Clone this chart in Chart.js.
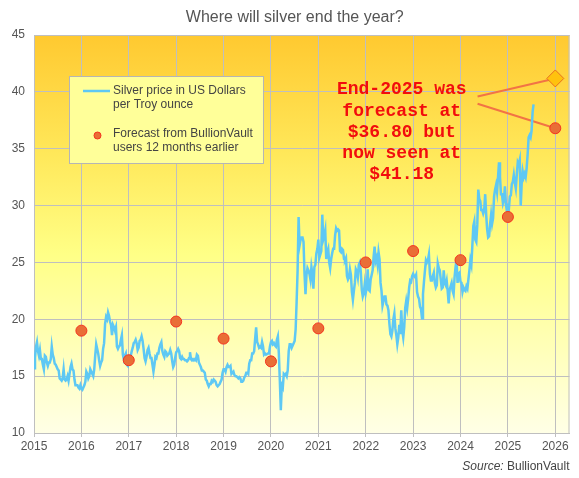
<!DOCTYPE html>
<html>
<head>
<meta charset="utf-8">
<script src="https://cdn.jsdelivr.net/npm/chart.js@4.4.1/dist/chart.umd.min.js"></script>
<style>
  html, body { margin: 0; padding: 0; background: #fff; }
  #wrap { width: 579px; height: 478px; }
</style>
</head>
<body>
<div id="wrap"><canvas id="chart"></canvas></div>
<script>
// silver price, roughly weekly (4 readings a month), USD per troy ounce
const silver2015 = [15.7,16.6,17.6,18.0, 17.2,16.8,17.3,16.5, 16.5,16.0,15.6,16.8, 16.7,16.2,15.9,16.2, 16.2,16.5,17.6,16.9, 16.6,16.1,16.0,15.8, 15.6,15.5,14.8,14.7, 14.6,14.8,15.6,14.7, 14.6,14.7,15.0,14.6, 15.2,15.8,16.1,15.6, 15.5,14.7,14.2,14.2, 14.2,14.0,13.9,14.2];
const silver2016 = [13.9,13.8,14.0,14.2, 14.5,15.4,15.2,14.8, 15.0,15.6,15.4,15.2, 15.0,15.6,16.8,17.8, 17.4,17.0,16.4,15.9, 16.2,16.4,17.4,17.9, 19.6,20.2,20.0,20.6, 20.3,19.8,19.5,18.6, 19.5,19.3,19.0,19.3, 17.6,17.4,17.6,17.7, 18.2,18.6,16.9,16.5, 16.8,17.0,16.0,15.9];
const silver2017 = [16.4,16.6,16.8,17.2, 17.5,17.9,18.0,18.2, 17.9,17.3,17.5,18.1, 18.2,18.5,18.1,17.4, 16.6,16.3,16.7,17.3, 17.5,17.0,16.6,16.6, 16.0,15.4,16.0,16.7, 16.6,17.0,17.0,17.5, 17.8,18.0,17.2,16.9, 16.7,17.2,17.1,16.8, 16.9,17.0,17.3,17.0, 16.3,15.8,16.0,16.6];
const silver2018 = [17.1,17.2,17.4,17.2, 16.6,16.5,16.7,16.5, 16.5,16.4,16.4,16.3, 16.4,16.6,17.1,16.5, 16.4,16.5,16.4,16.5, 16.4,16.9,16.8,16.2, 16.0,15.8,15.5,15.5, 15.4,15.3,14.7,14.6, 14.3,14.1,14.3,14.3, 14.6,14.5,14.7,14.6, 14.5,14.2,14.1,14.2, 14.3,14.5,14.7,15.3];
const silver2019 = [15.6,15.6,15.4,15.8, 16.0,15.8,15.8,15.9, 15.2,15.3,15.4,15.1, 15.0,15.0,14.9,14.8, 14.9,14.8,14.5,14.5, 14.6,14.9,15.0,15.3, 15.3,15.2,16.1,16.4, 16.4,17.0,17.0,17.2, 18.3,19.3,18.0,17.8, 17.5,17.6,17.5,18.0, 17.6,16.9,17.0,16.9, 16.9,17.0,17.0,17.6];
const silver2020 = [18.0,18.1,17.8,17.9, 17.7,17.6,18.2,18.5, 17.0,14.6,12.0,14.2, 14.0,15.2,15.1,15.2, 15.0,15.5,17.2,17.8, 17.8,17.5,17.7,17.9, 18.1,19.1,21.5,24.3, 29.0,26.5,27.0,27.2, 27.2,26.8,24.0,22.2, 23.9,24.5,24.3,24.0, 23.5,24.6,24.0,22.7, 24.6,24.8,25.8,26.2];
const silver2021 = [27.0,25.4,25.7,26.0, 29.2,27.0,27.3,27.8, 25.3,25.9,26.2,25.0, 24.5,25.3,25.8,26.2, 26.2,27.4,28.0,27.8, 27.9,27.8,26.0,25.9, 26.2,26.1,25.3,25.2, 25.4,23.8,23.5,23.7, 24.4,23.9,22.4,21.7, 22.5,23.2,24.4,24.2, 23.7,24.8,25.0,24.2, 22.6,22.0,22.3,23.1];
const silver2022 = [22.3,22.8,24.4,22.6, 22.5,23.5,23.9,24.3, 25.5,26.4,25.1,25.4, 24.8,25.9,25.3,23.2, 22.5,21.2,21.6,22.0, 22.0,21.3,21.2,20.8, 19.6,18.7,18.5,19.0, 20.0,20.5,19.2,18.6, 17.8,18.4,19.5,18.7, 20.8,19.0,18.4,19.3, 21.0,21.6,21.0,21.8, 22.8,23.4,23.3,23.8];
const silver2023 = [24.0,23.8,23.7,23.9, 22.4,22.0,21.8,21.1, 20.9,20.1,22.2,23.3, 24.3,25.2,25.0,25.2, 25.7,24.0,23.4,23.4, 23.8,24.1,23.2,22.8, 23.0,24.9,24.5,24.3, 23.5,22.7,22.8,24.3, 23.2,23.0,23.4,22.5, 21.4,22.6,22.9,23.2, 22.5,22.2,23.7,24.6, 25.2,23.2,24.0,24.1];
const silver2024 = [23.3,23.2,22.4,22.8, 22.6,22.5,22.9,22.7, 23.5,24.3,25.2,24.8, 26.5,28.2,28.6,27.0, 26.8,28.3,31.4,30.6, 30.4,29.6,29.6,29.3, 29.6,31.0,29.2,27.9, 27.2,27.3,28.4,29.2, 28.4,28.9,30.8,31.4, 31.8,31.2,32.5,33.8, 32.5,31.0,31.0,30.2, 30.5,31.7,30.1,29.5];
const silver2025 = [29.9,29.7,30.8,30.9, 31.9,32.1,32.7,32.0, 31.5,32.7,33.8,33.6, 34.0,30.0,32.0,33.0, 32.5,32.8,32.5,33.3, 34.5,36.0,36.2,36.0, 36.6,38.2,38.9];
const silverYears = [2015,2016,2017,2018,2019,2020,2021,2022,2023,2024,2025];
const silverByYear = [silver2015,silver2016,silver2017,silver2018,silver2019,silver2020,silver2021,silver2022,silver2023,silver2024,silver2025];

// year-end forecasts made 12 months earlier
const forecastYears  = [2016,2017,2018,2019,2020,2021,2022,2023,2024,2025,2026];
const forecastValues = [19.0,16.4,19.8,18.3,16.3,19.2,25.0,26.0,25.2,29.0,36.8];
const latestYear = 2026;
const latestForecast = 41.18;

const xTickLabels = [2015,2016,2017,2018,2019,2020,2021,2022,2023,2024,2025,2026];
const titleText = "Where will silver end the year?";
const noteLines = ["End-2025 was", "forecast at", "$36.80 but", "now seen at", "$41.18"];

const FONT = "'Liberation Sans', Arial, sans-serif";
Chart.defaults.font.family = FONT;

const silverPoints = [];
silverByYear.forEach((vals, k) => {
  vals.forEach((v, i) => silverPoints.push({ x: silverYears[k] + i / 48, y: v }));
});
const forecastPoints = forecastYears.map((yr, i) => ({ x: yr, y: forecastValues[i] }));

const decor = {
  id: "decor",
  beforeDraw(chart) {
    const { ctx, chartArea: a } = chart;
    const g = ctx.createLinearGradient(0, a.top, 0, a.bottom);
    g.addColorStop(0, "#ffc930");
    g.addColorStop(0.3, "#ffe85a");
    g.addColorStop(0.55, "#ffff86");
    g.addColorStop(1, "#ffffe6");
    ctx.save();
    ctx.fillStyle = g;
    ctx.fillRect(a.left, a.top, a.right - a.left, a.bottom - a.top);
    ctx.fillStyle = "#555";
    ctx.font = "16px " + FONT;
    ctx.textAlign = "center";
    ctx.textBaseline = "middle";
    ctx.fillText(titleText, (a.left + a.right) / 2 - 7, 17.5);
    ctx.restore();
  },
  beforeDatasetsDraw(chart) {
    const { ctx, chartArea: a, scales: { x, y } } = chart;
    ctx.save();
    ctx.strokeStyle = "#bfbfbf";
    ctx.lineWidth = 1;
    ctx.strokeRect(a.left + 0.5, a.top + 0.5, a.right - a.left - 1, a.bottom - a.top);
    // connectors from the note to the two end-2025 markers
    ctx.strokeStyle = "#f27345";
    ctx.lineWidth = 2;
    ctx.beginPath();
    ctx.moveTo(x.getPixelForValue(2024.36), y.getPixelForValue(39.6));
    ctx.lineTo(x.getPixelForValue(latestYear), y.getPixelForValue(latestForecast));
    ctx.moveTo(x.getPixelForValue(2024.36), y.getPixelForValue(38.95));
    ctx.lineTo(x.getPixelForValue(2026), y.getPixelForValue(forecastValues[forecastValues.length - 1]));
    ctx.stroke();
    ctx.restore();
  },
  afterDatasetsDraw(chart) {
    const { ctx, chartArea: a, scales: { x, y } } = chart;
    ctx.save();

    // legend box
    const lx = a.left + 35, ly = a.top + 41;
    ctx.fillStyle = "#ffff99";
    ctx.fillRect(lx, ly, 194, 87);
    ctx.strokeStyle = "#b5b5b5";
    ctx.lineWidth = 1;
    ctx.strokeRect(lx + 0.5, ly + 0.5, 194, 87);
    ctx.strokeStyle = "#5ec8f4";
    ctx.lineWidth = 2.5;
    ctx.beginPath();
    ctx.moveTo(lx + 14, ly + 15);
    ctx.lineTo(lx + 41, ly + 15);
    ctx.stroke();
    ctx.beginPath();
    ctx.arc(lx + 28.5, ly + 59.5, 3.5, 0, Math.PI * 2);
    ctx.fillStyle = "#e96e36";
    ctx.fill();
    ctx.strokeStyle = "#f5331f";
    ctx.lineWidth = 1;
    ctx.stroke();
    ctx.fillStyle = "#444";
    ctx.font = "12px " + FONT;
    ctx.textAlign = "left";
    ctx.textBaseline = "middle";
    ctx.fillText("Silver price in US Dollars", lx + 44, ly + 14.5);
    ctx.fillText("per Troy ounce", lx + 44, ly + 28.5);
    ctx.fillText("Forecast from BullionVault", lx + 44, ly + 58);
    ctx.fillText("users 12 months earlier", lx + 44, ly + 72);

    // note
    ctx.fillStyle = "#f20d0d";
    ctx.font = "bold 18px 'Liberation Mono', 'Courier New', monospace";
    ctx.textAlign = "center";
    const nx = x.getPixelForValue(2022.76);
    const ny = y.getPixelForValue(40.17);
    noteLines.forEach((t, i) => ctx.fillText(t, nx, ny + i * 21.2));

    // source
    ctx.fillStyle = "#444";
    ctx.textAlign = "right";
    ctx.font = "12px " + FONT;
    const src = "BullionVault";
    const sx = a.right;
    const sy = 467;
    ctx.fillText(src, sx, sy);
    const w = ctx.measureText(src).width;
    ctx.font = "italic 12px " + FONT;
    ctx.fillText("Source: ", sx - w, sy);
    ctx.restore();
  }
};

new Chart(document.getElementById("chart"), {
  type: "line",
  data: {
    datasets: [
      {
        label: "Latest forecast",
        data: [{ x: latestYear, y: latestForecast }],
        showLine: false,
        pointStyle: "rectRot",
        pointRadius: 8.5,
        pointBackgroundColor: "#ffc20e",
        pointBorderColor: "#e8701e",
        pointBorderWidth: 1,
        clip: false,
        order: 0
      },
      {
        label: "Forecast from BullionVault users 12 months earlier",
        data: forecastPoints,
        showLine: false,
        pointRadius: 5.5,
        pointBackgroundColor: "#e96e36",
        pointBorderColor: "#f5331f",
        pointBorderWidth: 1,
        clip: false,
        order: 1
      },
      {
        label: "Silver price in US Dollars per Troy ounce",
        data: silverPoints,
        borderColor: "#5ec8f4",
        borderWidth: 2.5,
        pointRadius: 0,
        tension: 0,
        fill: false,
        order: 3
      }
    ]
  },
  options: {
    responsive: true,
    maintainAspectRatio: false,
    animation: false,
    layout: { padding: { left: 0, right: 7, top: 35, bottom: 25 } },
    plugins: {
      legend: { display: false },
      tooltip: { enabled: false },
      title: { display: false }
    },
    scales: {
      x: {
        type: "linear",
        min: 2015,
        max: 2026.3,
        afterBuildTicks: (s) => { s.ticks = xTickLabels.map((v) => ({ value: v })); },
        afterFit: (s) => { s.height = 20; s.paddingLeft = 0; s.paddingRight = 0; },
        ticks: {
          color: "#555",
          font: { size: 12 },
          padding: 2,
          autoSkip: false,
          maxRotation: 0,
          callback: (v) => String(v)
        },
        grid: { color: "#bfbfbf", tickLength: 4 },
        border: { color: "#bfbfbf" }
      },
      y: {
        min: 10,
        max: 45,
        afterFit: (s) => { s.width = 34; },
        ticks: { stepSize: 5, color: "#555", font: { size: 12 }, padding: 9 },
        grid: { color: "#bfbfbf", drawTicks: false },
        border: { color: "#bfbfbf" }
      }
    }
  },
  plugins: [decor]
});
</script>
</body>
</html>
